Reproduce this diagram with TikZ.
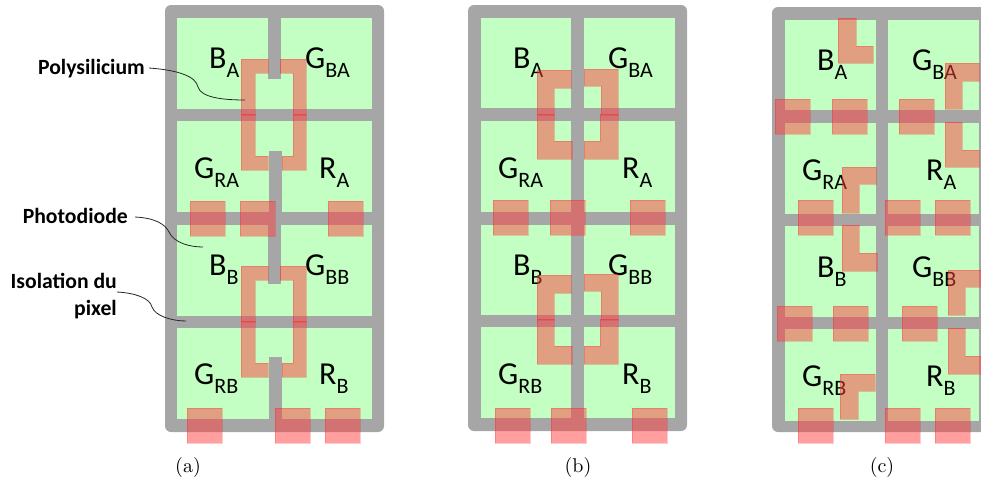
\documentclass[tikz,border=0pt]{standalone}
\usepackage{fontspec}
\setmainfont{Carlito}
\newfontfamily\capfont{Latin Modern Roman}
\definecolor{isogray}{RGB}{166,166,166}
\definecolor{cellgreen}{RGB}{195,255,195}
\definecolor{polyred}{RGB}{255,64,64}
\newcommand{\pix}[2]{\fontsize{32}{36}\selectfont #1\raisebox{-9pt}{\fontsize{22}{24}\selectfont #2}}
\tikzset{
  frame/.style={fill=isogray, rounded corners=6pt},
  cell/.style={fill=cellgreen},
  bar/.style={fill=isogray},
  poly/.style={fill=polyred, fill opacity=0.5, draw=red, draw opacity=0.2, line width=0.8pt},
  pixname/.style={inner sep=0pt, anchor=base west},
  callout/.style={inner sep=0pt, font=\fontsize{21.7}{27}\selectfont\bfseries, align=right},
  leader/.style={draw=black!85, line width=0.8pt},
  subcap/.style={inner sep=0pt, scale=2, font=\capfont}
}
\begin{document}
\begin{tikzpicture}[x=1pt, y=-1pt]
\clip[use as bounding box] (0,0) rectangle (981,479);

% Panel (a) : frame, cells, isolation bars
\fill[frame] (165,5) rectangle (384,432);
\foreach \ya/\yb in {18/109, 121/212, 225/316, 328/419} {
  \fill[cell] (177,\ya) rectangle (372,\yb);
}
\fill[bar] (268,18) rectangle (281,79);
\fill[bar] (269,151) rectangle (282,225);
\fill[bar] (268,225) rectangle (281,284);
\fill[bar] (269,357) rectangle (282,419);
\foreach \ya/\yb in {109/121, 212/225, 316/328} {
  \fill[bar] (177,\ya) rectangle (372,\yb);
}

% Panel (b)
\fill[frame] (468,5) rectangle (687,431);
\foreach \ya/\yb in {18/108, 121/212, 225/315, 327/418} {
  \fill[cell] (481,\ya) rectangle (675,\yb);
}
\fill[bar] (571,18) rectangle (584,418);
\foreach \ya/\yb in {108/121, 212/225, 315/327} {
  \fill[bar] (481,\ya) rectangle (675,\yb);
}

% Panel (c), runs off the right side
\fill[frame] (772,7) rectangle (1000,432);
\foreach \ya/\yb in {20/110, 123/214, 226/317, 329/421} {
  \fill[cell] (785,\ya) rectangle (979,\yb);
}
\fill[bar] (876,20) rectangle (888,421);
\foreach \ya/\yb in {110/123, 214/226, 317/329} {
  \fill[bar] (785,\ya) rectangle (981,\yb);
}

% Pixel names
\foreach \px/\py/\pa/\pb/\pname in {
  209/68/B/A/ba, 305/68/G/BA/gba, 194/178/G/RA/gra, 319/178/R/A/ra,
  209/275/B/B/bb, 305/275/G/BB/gbb, 194/384/G/RB/grb, 319/384/R/B/rb,
  513/68/B/A/bab, 608/68/G/BA/gbab, 498/178/G/RA/grab, 622/178/R/A/rab,
  513/275/B/B/bbb, 608/275/G/BB/gbbb, 498/384/G/RB/grbb, 622/384/R/B/rbb,
  817/70/B/A/bac, 912/70/G/BA/gbac, 802/180/G/RA/grac, 926/180/R/A/rac,
  817/277/B/B/bbc, 912/277/G/BB/gbbc, 802/386/G/RB/grbc, 926/386/R/B/rbc} {
  \node[pixname] (\pname) at (\px,\py) {\pix{\pa}{\pb}};
}

% Polysilicium of (a), two pieces per side
\foreach \dy in {0,207} {
  \begin{scope}[yshift=-\dy pt]
    \filldraw[poly] (241,59) -- (268,59) -- (268,73) -- (255,73) -- (255,115) -- (241,115) -- cycle;
    \filldraw[poly] (241,114) -- (255,114) -- (255,156) -- (268,156) -- (268,170) -- (241,170) -- cycle;
    \filldraw[poly] (280,59) -- (306,59) -- (306,115) -- (293,115) -- (293,73) -- (280,73) -- cycle;
    \filldraw[poly] (293,114) -- (306,114) -- (306,170) -- (282,170) -- (282,156) -- (293,156) -- cycle;
  \end{scope}
}

% Polysilicium of (b)
\foreach \dy in {0,205} {
  \begin{scope}[yshift=-\dy pt]
    \filldraw[poly] (537,70) -- (571,70) -- (571,88) -- (554,88) -- (554,115) -- (537,115) -- cycle;
    \filldraw[poly] (537,114) -- (554,114) -- (554,141) -- (572,141) -- (572,159) -- (537,159) -- cycle;
    \filldraw[poly] (584,69) -- (618,69) -- (618,115) -- (601,115) -- (601,86) -- (584,86) -- cycle;
    \filldraw[poly] (600,114) -- (618,114) -- (618,159) -- (584,159) -- (584,141) -- (600,141) -- cycle;
  \end{scope}
}

% Polysilicium of (c), one corner per pixel
\filldraw[poly] (838,18) -- (856,18) -- (856,46) -- (873,46) -- (873,63) -- (838,63) -- cycle;
\filldraw[poly] (945,63) -- (979,63) -- (979,81) -- (962,81) -- (962,109) -- (945,109) -- cycle;
\filldraw[poly] (945,122) -- (962,122) -- (962,150) -- (979,150) -- (979,167) -- (945,167) -- cycle;
\filldraw[poly] (842,167) -- (876,167) -- (876,184) -- (859,184) -- (859,213) -- (842,213) -- cycle;
\filldraw[poly] (842,225) -- (859,225) -- (859,253) -- (877,253) -- (877,271) -- (842,271) -- cycle;
\filldraw[poly] (948,270) -- (990,270) -- (990,287) -- (965,287) -- (965,315) -- (948,315) -- cycle;
\filldraw[poly] (948,328) -- (965,328) -- (965,356) -- (990,356) -- (990,374) -- (948,374) -- cycle;
\filldraw[poly] (840,374) -- (875,374) -- (875,391) -- (858,391) -- (858,419) -- (840,419) -- cycle;

% Photodiodes
\foreach \dx/\dy in {
  190/201, 240/201, 328/201, 187/408, 275/408, 325/408,
  493/200, 550/200, 630/200, 495/408, 551/408, 632/408,
  775/99, 832/99, 899/99, 798/200, 885/200, 935/200,
  777/306, 833/306, 902/306, 798/408, 885/408, 935/408} {
  \filldraw[poly] (\dx,\dy) rectangle ++(35,35);
}

% Callouts and their leaders
\node[callout, anchor=base east] (polylabel) at (145,74) {Polysilicium};
\node[callout, anchor=base east] (dioclabel) at (128,223) {Photodiode};
\node[callout, anchor=base east] (isollabel) at (117,315) {Isolation du\\pixel};
\coordinate (polystart) at (149,68);
\coordinate (diodstart) at (135,217);
\coordinate (isolstart) at (117,292);
\coordinate (polyend) at (245,100);
\coordinate (diodend) at (203,247);
\coordinate (isolend) at (186,321);
\draw[leader] (polystart) .. controls (177,70) and (196,76) .. (198,87) .. controls (201,98) and (225,100) .. (polyend);
\draw[leader] (diodstart) .. controls (155,218) and (165,224) .. (169,232) .. controls (174,243) and (190,247) .. (diodend);
\draw[leader] (isolstart) .. controls (135,293) and (150,298) .. (152,307) .. controls (155,316) and (172,321) .. (isolend);

% Captions
\node[subcap] (capa) at (188,467) {(a)};
\node[subcap] (capb) at (578,467) {(b)};
\node[subcap] (capc) at (882,467) {(c)};
\end{tikzpicture}
\end{document}
